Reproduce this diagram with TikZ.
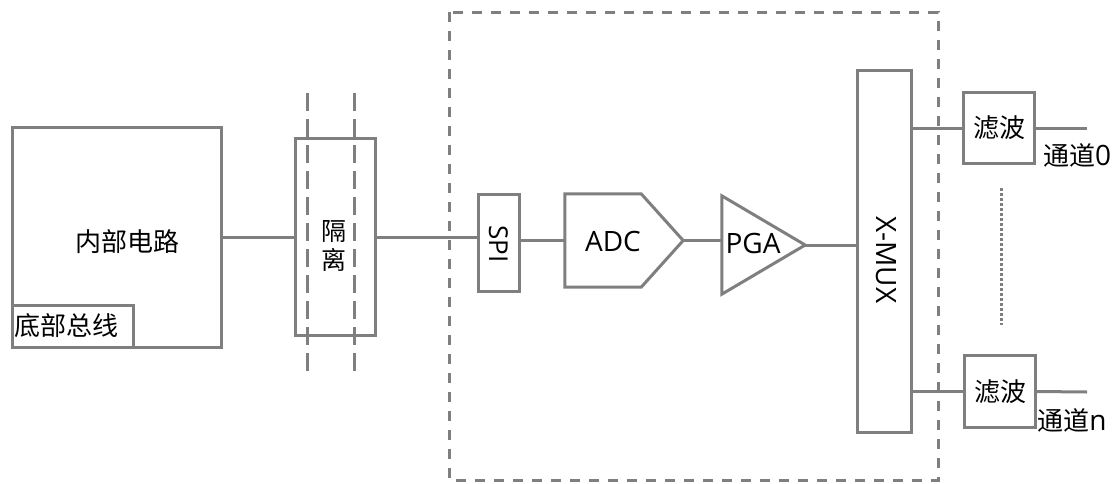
\documentclass[tikz,border=0pt]{standalone}
\usepackage{fontspec}
\setmainfont{Noto Sans CJK SC}
\newfontfamily\latinf{Open Sans}
\begin{document}
\begin{tikzpicture}[x=1pt,y=-1pt,
  line/.style={draw=linegray,line width=3pt},
  box/.style={line,rectangle,inner sep=0pt,fill=white},
  txt/.style={font=\fontsize{26}{28}\selectfont,inner sep=0pt},
  ltxt/.style={font=\latinf\fontsize{28}{30}\selectfont,inner sep=0pt},
  ghost/.style={rectangle,inner sep=0pt,draw=none}]
\definecolor{linegray}{HTML}{7F7F7F}
\useasboundingbox (0,0) rectangle (1120,483);
% outer dashed frame
\draw[line,dash pattern=on 10pt off 9pt] (449,12) rectangle (938,480);
% inner circuit
\node[box,minimum width=209,minimum height=220] (inner) at (116.5,237) {};
\node[box,anchor=south west,minimum width=121,minimum height=42] (bus) at (inner.south west) {};
\node[txt] (innert) at (127,242) {内部电路};
\node[txt] (bust) at (67,326) {底部总线};
% isolation
\node[box,minimum width=80,minimum height=197] (iso) at (335,237) {};
\node[txt,align=center,font=\fontsize{25}{27}\selectfont] (isot) at (334,246) {隔\\[2pt]离};
\coordinate (d1t) at (307,93); \coordinate (d1b) at (307,373);
\coordinate (d2t) at (354,93); \coordinate (d2b) at (354,373);
\draw[line,dash pattern=on 18pt off 8pt] (d1t) -- (d1b);
\draw[line,dash pattern=on 18pt off 8pt] (d2t) -- (d2b);
% SPI
\node[box,minimum width=41,minimum height=97] (spi) at (498.5,242.5) {};
\node[ltxt,rotate=-90,font=\latinf\fontsize{26}{28}\selectfont] (spit) at (498.5,244) {SPI};
% ADC
\node[ghost,minimum width=118,minimum height=93] (adc) at (624,240.5) {};
\draw[line,line join=miter] (adc.north west) -- ([xshift=-42pt]adc.north east) -- (adc.east) -- ([xshift=-42pt]adc.south east) -- (adc.south west) -- cycle;
\node[ltxt] (adct) at (613,241) {ADC};
% PGA
\node[ghost,minimum width=83,minimum height=98] (pga) at (763.5,245) {};
\draw[line,line join=miter] (pga.north west) -- (pga.east) -- (pga.south west) -- cycle;
\node[ltxt] (pgat) at (753,243) {PGA};
% MUX
\node[box,minimum width=54,minimum height=362] (mux) at (884.5,251) {};
\node[ltxt,rotate=-90] (muxt) at (886,260) {X-MUX};
% filters
\node[box,minimum width=71,minimum height=71] (f0) at (999,128) {};
\node[txt] at (f0) {滤波};
\node[box,minimum width=71,minimum height=72] (fn) at (1000,391.5) {};
\node[txt] at (fn) {滤波};
\coordinate (c0) at (1087,128);
\coordinate (cn) at (1087,392);
\node[txt] (l0) at (1077,155) {通道{\latinf\fontsize{28}{30}\selectfont 0}};
\node[txt] (ln) at (1072,420) {通道{\latinf\fontsize{28}{30}\selectfont n}};
% dotted
\coordinate (dt) at (1001,188); \coordinate (db) at (1001,325);
\draw[draw=linegray,line width=3pt,dash pattern=on 3pt off 2pt] (dt) -- (db);
% connectors
\draw[line] (inner.east) -- (iso.west);
\draw[line] (iso.east) -- (spi.west |- iso.east);
\draw[line] (spi.east |- adc.west) -- (adc.west);
\draw[line] (adc.east) -- (pga.west |- adc.east);
\draw[line] (pga.east) -- (mux.west |- pga.east);
\draw[line] (mux.east |- f0.west) -- (f0.west);
\draw[line] (f0.east) -- (c0);
\draw[line] (mux.east |- fn.west) -- (fn.west);
\draw[line] (fn.east) -- (cn);
\end{tikzpicture}
\end{document}
